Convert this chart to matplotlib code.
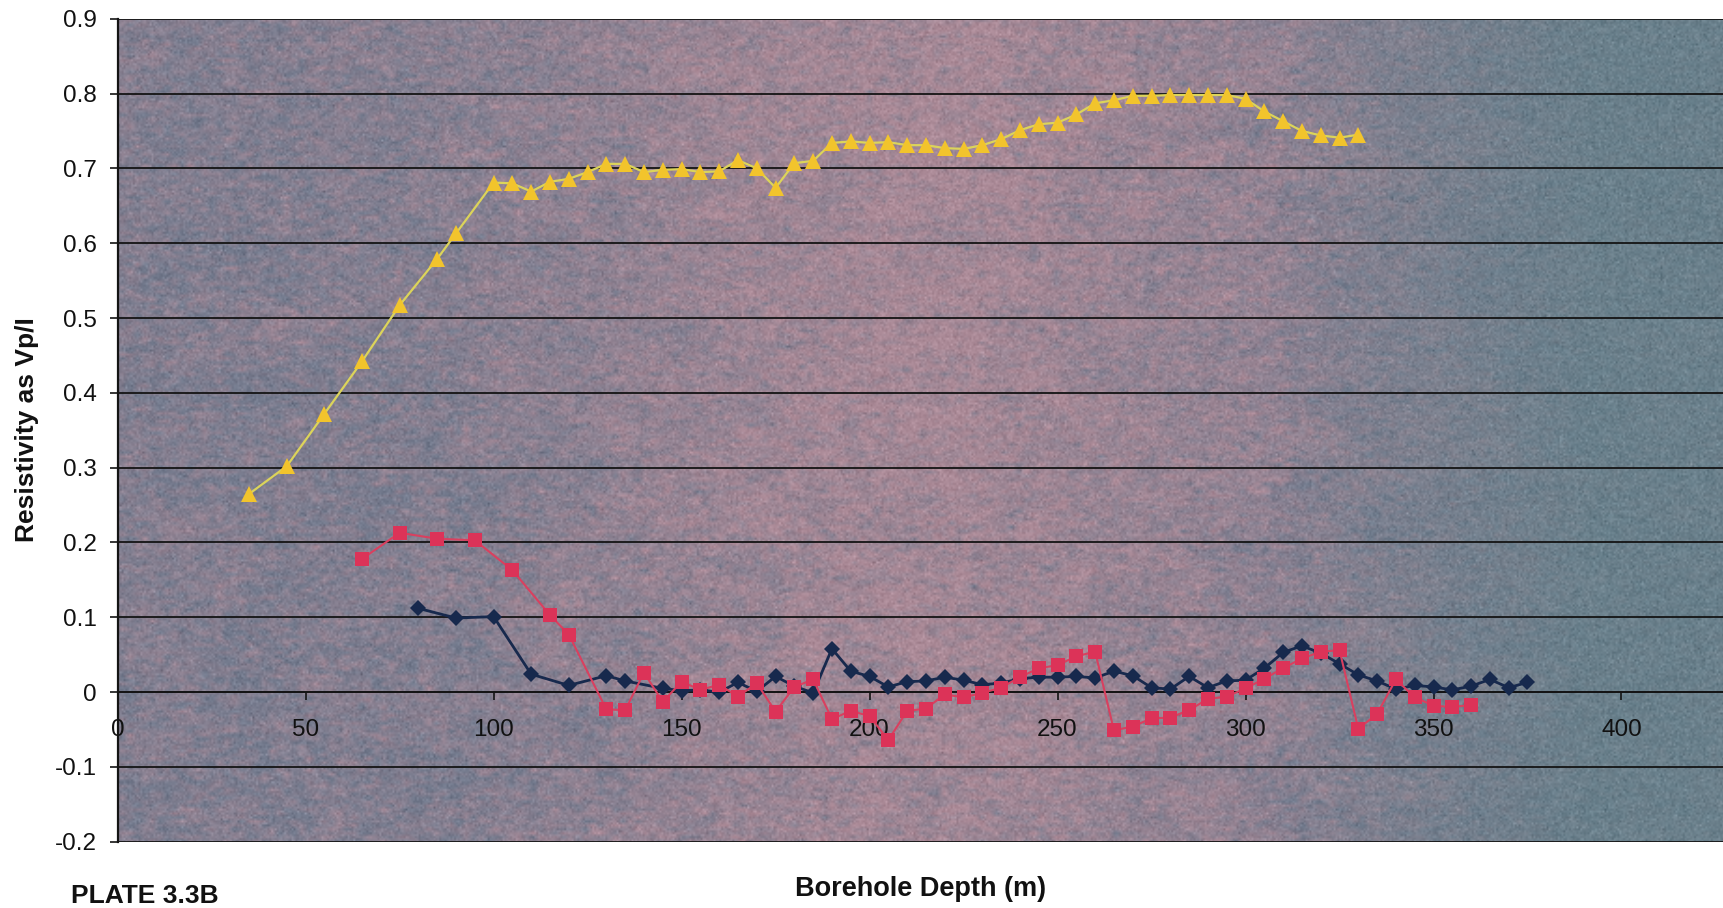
import numpy as np
import matplotlib
matplotlib.use("Agg")
import matplotlib.pyplot as plt
from matplotlib.colors import to_rgb

plt.rcParams['font.family'] = ['Liberation Sans', 'DejaVu Sans']

# ---- data -------------------------------------------------------------
navy_depth = [80, 90, 100, 110, 120, 130, 135, 145, 150, 155, 160, 165, 170,
              175, 180, 185, 190, 195, 200, 205, 210, 215, 220, 225, 230, 235,
              240, 245, 250, 255, 260, 265, 270, 275, 280, 285, 290, 295, 300,
              305, 310, 315, 320, 325, 330, 335, 340, 345, 350, 355, 360, 365,
              370, 375]
navy_res = [0.112, 0.099, 0.101, 0.024, 0.009, 0.022, 0.015, 0.005, 0.002,
            0.003, 0.000, 0.013, 0.001, 0.021, 0.008, -0.001, 0.058, 0.028,
            0.021, 0.007, 0.014, 0.015, 0.020, 0.016, 0.010, 0.012, 0.018,
            0.020, 0.020, 0.021, 0.019, 0.028, 0.022, 0.006, 0.004, 0.021,
            0.006, 0.015, 0.016, 0.032, 0.053, 0.062, 0.052, 0.038, 0.023,
            0.015, 0.004, 0.009, 0.007, 0.003, 0.008, 0.017, 0.006, 0.013]

red_depth = [65, 75, 85, 95, 105, 115, 120, 130, 135, 140, 145, 150, 155, 160,
             165, 170, 175, 180, 185, 190, 195, 200, 205, 210, 215, 220, 225,
             230, 235, 240, 245, 250, 255, 260, 265, 270, 275, 280, 285, 290,
             295, 300, 305, 310, 315, 320, 325, 330, 335, 340, 345, 350, 355,
             360]
red_res = [0.178, 0.213, 0.205, 0.203, 0.163, 0.103, 0.077, -0.023, -0.024,
           0.026, -0.013, 0.014, 0.003, 0.010, -0.006, 0.012, -0.026, 0.007,
           0.017, -0.036, -0.025, -0.032, -0.064, -0.025, -0.022, -0.003,
           -0.007, -0.001, 0.006, 0.020, 0.032, 0.036, 0.048, 0.054, -0.051,
           -0.046, -0.035, -0.034, -0.024, -0.009, -0.006, 0.005, 0.018,
           0.032, 0.045, 0.054, 0.056, -0.049, -0.029, 0.017, -0.007, -0.018,
           -0.020, -0.017]

yellow_depth = [35, 45, 55, 65, 75, 85, 90, 100, 105, 110, 115, 120, 125, 130,
                135, 140, 145, 150, 155, 160, 165, 170, 175, 180, 185, 190,
                195, 200, 205, 210, 215, 220, 225, 230, 235, 240, 245, 250,
                255, 260, 265, 270, 275, 280, 285, 290, 295, 300, 305, 310,
                315, 320, 325, 330]
yellow_res = [0.265, 0.302, 0.372, 0.442, 0.517, 0.579, 0.613, 0.681, 0.680,
              0.669, 0.682, 0.686, 0.695, 0.706, 0.706, 0.695, 0.698, 0.699,
              0.695, 0.696, 0.711, 0.700, 0.674, 0.707, 0.710, 0.734, 0.736,
              0.734, 0.735, 0.731, 0.731, 0.727, 0.726, 0.731, 0.739, 0.751,
              0.759, 0.761, 0.772, 0.787, 0.791, 0.797, 0.797, 0.798, 0.798,
              0.798, 0.798, 0.793, 0.776, 0.763, 0.750, 0.744, 0.741, 0.745]

x_ticks = [0, 50, 100, 150, 200, 250, 300, 350, 400]
y_ticks = [-0.2, -0.1, 0, 0.1, 0.2, 0.3, 0.4, 0.5, 0.6, 0.7, 0.8, 0.9]
x_tick_labels = ['0', '50', '100', '150', '200', '250', '300', '350', '400']
y_tick_labels = ['-0.2', '-0.1', '0', '0.1', '0.2', '0.3', '0.4', '0.5',
                 '0.6', '0.7', '0.8', '0.9']

XMIN, XMAX = 0, 427
YMIN, YMAX = -0.2, 0.9

# ---- figure -----------------------------------------------------------
W, H = 1723, 908
fig = plt.figure(figsize=(W / 100, H / 100), dpi=100)
fig.patch.set_facecolor('white')
ax = fig.add_axes([117.6 / W, 1 - 841.8 / H, 1 - 117.6 / W, (841.8 - 18.7) / H])


def smooth_noise(rng, ny, nx, cy, cx, passes=2):
    """Blocky noise blurred with a box filter (cells cy x cx)."""
    f = rng.normal(0, 1, (ny // cy + 1, nx // cx + 1))
    f = np.kron(f, np.ones((cy, cx)))[:ny, :nx]
    ky, kx = np.ones(cy) / cy, np.ones(cx) / cx
    for _ in range(passes):
        f = np.apply_along_axis(lambda r: np.convolve(r, kx, mode='same'), 1, f)
        f = np.apply_along_axis(lambda c: np.convolve(c, ky, mode='same'), 0, f)
    return f / (f.std() + 1e-9)


# mottled plot-area fill: mauve in the middle, slate blue at the sides
ny, nx = 420, 860
gx = np.linspace(0, 1, nx)[None, :]
gy = np.linspace(0, 1, ny)[:, None]
pink = np.array(to_rgb('#ab8a97'))
slate = np.array(to_rgb('#737a8d'))
teal = np.array(to_rgb('#64808a'))
w_pink = (0.28 + 0.50 * np.exp(-((gx - 0.50) / 0.22) ** 2)
          + 0.12 * np.exp(-((gx - 0.55) / 0.3) ** 2) * (1 - gy)
          - 0.08 * gy * np.exp(-((gx - 0.15) / 0.15) ** 2))
w_teal = np.clip((gx - 0.72) / 0.2, 0, 1)
rng = np.random.default_rng(7)
w_pink = (w_pink + 0.06 * smooth_noise(rng, ny, nx, 10, 20)
          + 0.14 * smooth_noise(rng, ny, nx, 2, 4, passes=1))
w_pink = np.clip(w_pink, 0, 1)
base = (w_pink[..., None] * pink + (1 - w_pink[..., None]) * slate)
base = (1 - w_teal[..., None] * 0.8) * base + (w_teal[..., None] * 0.8) * teal
grain = rng.normal(0, 0.03, (ny, nx, 1))
img = np.clip(base + grain, 0, 1)
ax.imshow(img, extent=(XMIN, XMAX, YMIN, YMAX), aspect='auto',
          interpolation='bilinear', zorder=0, origin='upper')

# gridlines
for yv in y_ticks:
    ax.axhline(yv, color='#141414', lw=1.3, zorder=1)

# series (navy first, then magenta, then yellow on top)
ax.plot(navy_depth, navy_res, color='#17294d', lw=2.0, marker='D',
        markersize=8.3, markerfacecolor='#17294d', markeredgewidth=0,
        zorder=3)
ax.plot(red_depth, red_res, color='#d9405f', lw=1.5, marker='s',
        markersize=10.5, markerfacecolor='#dc3358', markeredgewidth=0,
        zorder=4)
ax.plot(yellow_depth, yellow_res, color='#dcd45a', lw=1.6, marker='^',
        markersize=12, markerfacecolor='#f2c42c', markeredgewidth=0,
        zorder=5)

ax.set_xlim(XMIN, XMAX)
ax.set_ylim(YMIN, YMAX)

# axes lines: vertical axis at left, category axis crossing at zero
ax.spines['top'].set_visible(False)
ax.spines['right'].set_visible(False)
ax.spines['left'].set_color('#141414')
ax.spines['left'].set_linewidth(1.6)
ax.spines['bottom'].set_position(('data', 0))
ax.spines['bottom'].set_color('#141414')
ax.spines['bottom'].set_linewidth(1.3)
for s in ax.spines.values():
    s.set_zorder(2)

ax.set_xticks(x_ticks)
ax.set_xticklabels(x_tick_labels)
ax.set_yticks(y_ticks)
ax.set_yticklabels(y_tick_labels)
ax.tick_params(axis='x', direction='out', length=6, width=1.2,
               color='#141414', pad=13, labelsize=17.5, labelcolor='#111111')
ax.tick_params(axis='y', direction='out', length=6, width=1.2,
               color='#141414', pad=9, labelsize=17.5, labelcolor='#111111')
for lbl in ax.get_xticklabels():
    lbl.set_zorder(6)

fig.text(0.5 * (117.6 + W) / W, 1 - 889 / H, 'Borehole Depth (m)',
         ha='center', va='center', fontsize=19.5, fontweight='bold',
         color='#111111')
fig.text(27 / W, 1 - 430 / H, 'Resistivity as Vp/I', rotation=90,
         ha='center', va='center', fontsize=19, fontweight='bold',
         color='#111111')
fig.text(71 / W, 1 - 896 / H, 'PLATE 3.3B', ha='left', va='center',
         fontsize=19, fontweight='bold', color='#111111')

fig.savefig('out.png', dpi=100, facecolor='white')
